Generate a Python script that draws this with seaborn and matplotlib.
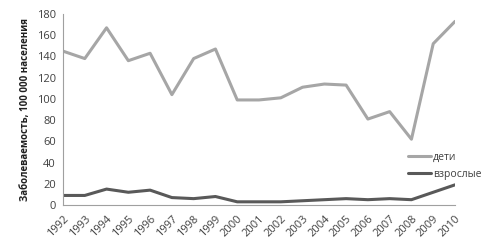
import matplotlib
matplotlib.use("Agg")
import matplotlib.pyplot as plt
import seaborn as sns
import pandas as pd

years = [str(y) for y in range(1992, 2011)]
children = [145, 138, 167, 136, 143, 104, 138, 147, 99, 99, 101, 111, 114, 113, 81, 88, 62, 152, 173]
adults = [9, 9, 15, 12, 14, 7, 6, 8, 3, 3, 3, 4, 5, 6, 5, 6, 5, 12, 19]
series_names = ["дети", "взрослые"]
y_label = "Заболеваемость, 100 000 населения"

sns.set_theme(style="white")
plt.rcParams['font.family'] = ['Open Sans', 'DejaVu Sans']

df = pd.DataFrame({
    "year": years * 2,
    "idx": list(range(len(years))) * 2,
    "value": children + adults,
    "series": [series_names[0]] * len(years) + [series_names[1]] * len(years),
})

fig = plt.figure(figsize=(5, 2.5), dpi=100)
ax = fig.add_axes([0.126, 0.18, 0.784, 0.764])
sns.lineplot(data=df, x="idx", y="value", hue="series",
             palette={series_names[0]: "#a6a6a6", series_names[1]: "#595959"},
             linewidth=2.2, ax=ax, legend=True)

ax.set_xlim(0, len(years) - 1)
ax.set_ylim(0, 180)
ax.set_yticks(range(0, 181, 20))
ax.set_xticks(range(len(years)))
ax.set_xticklabels(years, rotation=45, ha="right", rotation_mode="anchor")
ax.tick_params(axis="both", labelsize=8, colors="#404040", length=3, width=0.8,
               direction="out", color="#a0a0a0", pad=2)
ax.tick_params(axis="x", pad=3)
ax.set_xlabel("")
ax.set_ylabel(y_label, fontsize=7, fontweight="bold", color="#202020", labelpad=4)
for s in ["top", "right"]:
    ax.spines[s].set_visible(False)
for s in ["left", "bottom"]:
    ax.spines[s].set_color("#a0a0a0")
    ax.spines[s].set_linewidth(0.8)

leg = ax.legend(loc="upper left", bbox_to_anchor=(0.87, 0.30), frameon=False,
                fontsize=7.5, handlelength=2.2, handletextpad=0.2, labelspacing=0.55,
                borderaxespad=0)
for t in leg.get_texts():
    t.set_color("#404040")

fig.savefig("out.png", dpi=100)
